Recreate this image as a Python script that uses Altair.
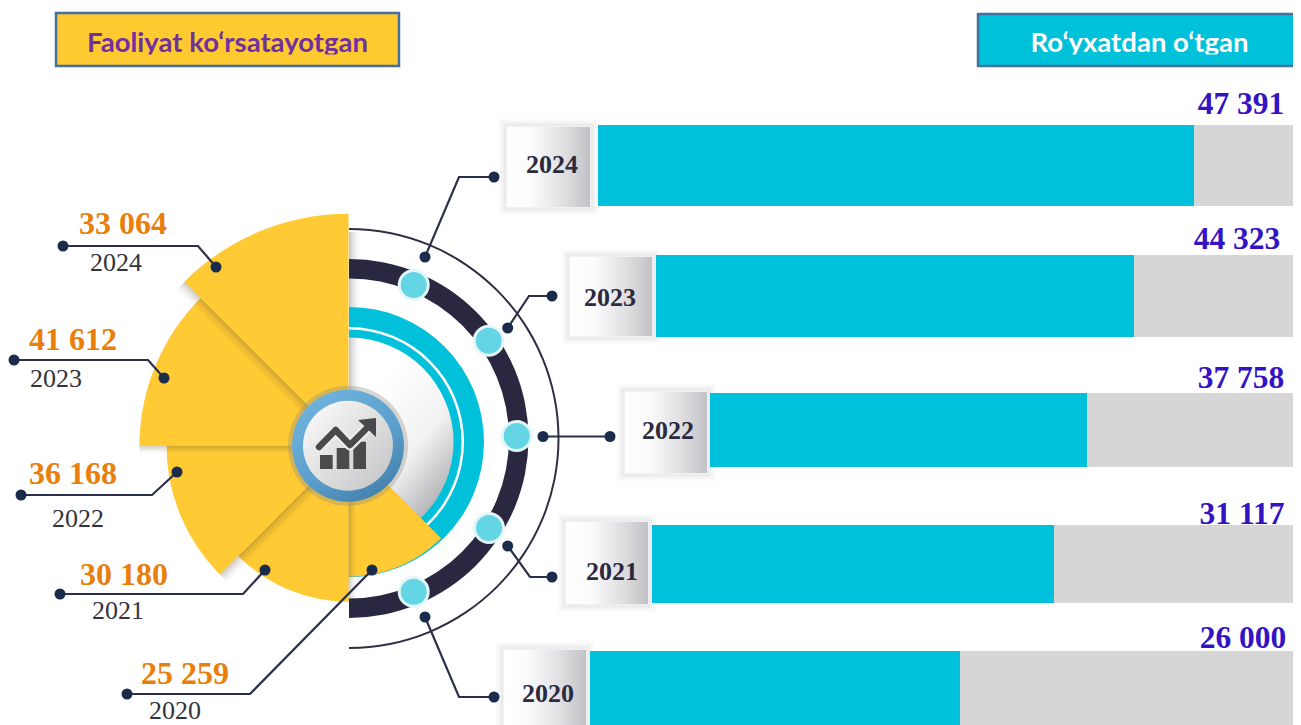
import math
import altair as alt
import pandas as pd

# ---- values
years = ["2024", "2023", "2022", "2021", "2020"]
registered = ["47 391", "44 323", "37 758", "31 117", "26 000"]
active = ["33 064", "41 612", "36 168", "30 180", "25 259"]

# bars (picture units)
bar_start = [598, 656, 710, 652, 590]
bar_end = [1194, 1134, 1087, 1054, 960]
bar_top = [125, 255, 393, 525, 651]
bar_bottom = [206, 337, 467, 603, 725]
box_left = [507, 570, 625, 566, 504]
box_right = [590, 652, 707, 648, 586]
box_top = [127, 257, 392, 522, 650]
box_bottom = [207, 336, 473, 604, 730]
box_label_x = [552, 610, 668, 612, 548]
box_label_y = [173, 306, 439, 580, 702]
reg_label_x = [1241, 1237, 1241, 1242, 1243]
reg_label_y = [114, 249, 388, 524, 648]

# fan
fan_cx, fan_cy = 348.5, 445.7
fan_from = [315, 270, 225, 180, 135]
fan_to = [360, 315, 270, 225, 180]
fan_radius = [232, 209, 182, 156, 131]
fan_shift_x = [-1, 0, 1, 1, 0]
fan_shift_y = [1, 1, 1, 0, 0]
act_label_x = [123, 73, 73, 124, 185]
act_label_y = [234, 350, 484, 585, 684]
yr_label_x = [116, 56, 78, 118, 175]
yr_label_y = [271, 387, 527, 619, 719]

# connectors: (series, x list, y list)
left_lines_x = [[63, 198, 216], [14, 148, 164], [21, 152, 177], [60, 243, 265], [127, 250, 372]]
left_lines_y = [[246, 246, 267], [360, 360, 378], [495, 495, 472], [594, 594, 570], [694, 694, 570]]
right_lines_x = [[425, 459, 494], [507.7, 529, 552], [543, 577, 610], [507.7, 530, 552], [425, 459, 494]]
right_lines_y = [[257, 177, 177], [328, 296, 296], [436.5, 436.5, 436.5], [546, 577, 577], [617, 697, 697]]
ring_dot_x = [413.7, 488.7, 516.7, 489, 413.7]
ring_dot_y = [285, 340.7, 436, 528, 591.7]

# icon
icon_bar_left = [320, 336.7, 353.3]
icon_bar_right = [332.7, 349.3, 366]
icon_bar_top = [455, 448, 441.7]
icon_bar_bottom = [469, 469, 469]
icon_line_x = [319, 335.7, 350, 366]
icon_line_y = [447, 430, 445, 429]
icon_head_x = [358, 376]
icon_head_y = [420, 418]
icon_head_y2 = [420, 437]

X = alt.Scale(domain=[8, 1293], nice=False, zero=False)
Y = alt.Scale(domain=[8, 725], reverse=True, nice=False, zero=False)


def ex(f="x"):
    return alt.X(f"{f}:Q", scale=X, axis=None)


def ey(f="y"):
    return alt.Y(f"{f}:Q", scale=Y, axis=None)


def rect(df, **mk):
    return alt.Chart(df).mark_rect(**mk).encode(
        x=ex("x"), x2=alt.X2("x2:Q"), y=ey("y"), y2=alt.Y2("y2:Q"))


def arc(cx, cy, a, b, r, r2=0, **mk):
    df = pd.DataFrame({"x": [cx], "y": [cy], "a": [math.radians(a)], "b": [math.radians(b)],
                       "r": [r], "r2": [r2]})
    return alt.Chart(df).mark_arc(**mk).encode(
        x=ex("x"), y=ey("y"),
        theta=alt.Theta("a:Q", scale=None, stack=False), theta2=alt.Theta2("b:Q"),
        radius=alt.Radius("r:Q", scale=None), radius2=alt.Radius2("r2:Q"))


def circle(xs, ys, d, **mk):
    df = pd.DataFrame({"x": xs, "y": ys})
    return alt.Chart(df).mark_circle(size=d * d, opacity=1, **mk).encode(x=ex("x"), y=ey("y"))


def text(xs, ys, labels, **mk):
    df = pd.DataFrame({"x": xs, "y": ys, "t": labels})
    return alt.Chart(df).mark_text(baseline="alphabetic", align="center", **mk).encode(
        x=ex("x"), y=ey("y"), text="t:N")


def grad(stops, x1=0, y1=0, x2=1, y2=0):
    return alt.LinearGradient(gradient="linear", x1=x1, y1=y1, x2=x2, y2=y2,
                              stops=[alt.GradientStop(offset=o, color=c) for o, c in stops])


def poly(xs, ys, **mk):
    df = pd.DataFrame({"x": xs, "y": ys, "o": range(len(xs))})
    return alt.Chart(df).mark_line(**mk).encode(x=ex("x"), y=ey("y"), order="o:Q")


layers = []

# headers
SERIF = "Liberation Serif"
layers.append(rect(pd.DataFrame({"x": [56], "x2": [399], "y": [13], "y2": [66]}),
                   fill="#FFCA2F", stroke="#41719C", strokeWidth=2.5))
layers.append(text([227.5], [52], ["Faoliyat ko‘rsatayotgan"], font="Lato", fontWeight="bold",
                   fontSize=27.5, color="#7030A0"))
layers.append(rect(pd.DataFrame({"x": [58], "x2": [397], "y": [54.5], "y2": [64]}), fill="#FFCA2F"))
layers.append(rect(pd.DataFrame({"x": [978], "x2": [1310], "y": [14], "y2": [66]}),
                   fill="#00C1DA", stroke="#41719C", strokeWidth=2.5))
layers.append(text([1139.5], [52], ["Ro‘yxatdan o‘tgan"], font="Lato", fontWeight="bold",
                   fontSize=27.5, color="#FFFFFF"))
layers.append(rect(pd.DataFrame({"x": [980], "x2": [1301], "y": [54.5], "y2": [64]}), fill="#00C1DA"))

# year boxes, under the bars
for i in range(5):
    l, r, t, b = box_left[i], box_right[i], box_top[i], box_bottom[i]
    for grow, col in [(8, "#FAFAFA"), (6, "#F5F5F6"), (4, "#EFEFF0"), (2.5, "#E7E7E9"), (1.5, "#F1F1F3")]:
        layers.append(rect(pd.DataFrame({"x": [l - grow], "x2": [r + grow], "y": [t - grow], "y2": [b + grow]}), fill=col))
    layers.append(rect(pd.DataFrame({"x": [l], "x2": [r], "y": [t], "y2": [b]}),
                       fill=grad([(0, "#FFFFFF"), (0.3, "#FBFBFC"), (0.7, "#DEDEE1"), (1, "#C2C2C6")])))
layers.append(text(box_label_x, box_label_y, years, font=SERIF, fontWeight="bold", fontSize=26, color="#2B2A40"))

# bars
bars = pd.DataFrame({"x": bar_start, "x2": bar_end, "y": bar_top, "y2": bar_bottom})
rest = pd.DataFrame({"x": bar_end, "x2": [1301] * 5, "y": bar_top, "y2": bar_bottom})
layers.append(rect(rest, fill="#D6D6D6"))
layers.append(rect(bars, fill="#00C1DB"))

# labels
layers.append(text(reg_label_x, reg_label_y, registered, font=SERIF, fontWeight="bold", fontSize=31.5, color="#3413C4"))
layers.append(text(act_label_x, act_label_y, active, font=SERIF, fontWeight="bold", fontSize=32, color="#E97E0A"))
layers.append(text(yr_label_x, yr_label_y, years, font=SERIF, fontSize=26, color="#33333D"))

# rings on the right
layers.append(arc(349, 442, 0, 180, 105, fill=grad([(0, "#FFFFFF"), (0.6, "#F2F2F3"), (1, "#B8B8BC")], 0.3, 0.2, 0.7, 0.85)))
layers.append(rect(pd.DataFrame({"x": [349], "x2": [362], "y": [232], "y2": [392]}),
                   fill=grad([(0, "#C4C4C8"), (1, "#FFFFFF00")])))
layers.append(arc(349, 442, 0, 180, 135, 104.5, fill="#00C0DA"))
layers.append(arc(349, 442, 0, 180, 115, 112.5, fill="#FFFFFF"))
layers.append(arc(349, 438.5, 0, 180, 179.5, 160, fill="#2A2840"))
layers.append(arc(349, 438.5, 0, 180, 210.5, 208.5, fill="#2F2E45"))
layers.append(circle(ring_dot_x, ring_dot_y, 29, fill="#63D5E4", stroke="#E4F6F8", strokeWidth=3))

# fan sectors, lowest first, each with its drop shadow
for i in range(4, -1, -1):
    for step, op in [(7, 0.05), (5, 0.06), (3, 0.08), (1.5, 0.09)]:
        layers.append(arc(fan_cx + fan_shift_x[i] * step, fan_cy + fan_shift_y[i] * step,
                          fan_from[i], fan_to[i], fan_radius[i], fill="#5A4A28", opacity=op))
    layers.append(arc(fan_cx, fan_cy, fan_from[i], fan_to[i], fan_radius[i], fill="#FFCA33"))

# centre badge
layers.append(circle([348], [445.7], 120, fill="#8C8C80", fillOpacity=0.35))
layers.append(circle([348], [445.7], 112, fill=grad([(0, "#6FB4DE"), (0.55, "#5C9FCD"), (1, "#3F7CA8")], 0.2, 0, 0.85, 1)))
layers.append(circle([348], [445.7], 90, fill=grad([(0, "#F8F8F8"), (1, "#C6C6C8")], 0.1, 0.1, 0.95, 0.9)))

# icon
icon_col = "#4A4A4C"
layers.append(rect(pd.DataFrame({"x": icon_bar_left, "x2": icon_bar_right, "y": icon_bar_top, "y2": icon_bar_bottom}), fill=icon_col))
layers.append(poly(icon_line_x, icon_line_y, color="#ECECEC", strokeWidth=11, strokeCap="round", strokeJoin="round"))
layers.append(poly(icon_line_x, icon_line_y, color=icon_col, strokeWidth=6.5, strokeCap="round", strokeJoin="round"))
layers.append(alt.Chart(pd.DataFrame({"x": icon_head_x, "y": icon_head_y, "y2": icon_head_y2})).mark_area(color=icon_col).encode(
    x=ex("x"), y=ey("y"), y2=alt.Y2("y2:Q")))

# connectors
for xs, ys in zip(left_lines_x + right_lines_x, left_lines_y + right_lines_y):
    layers.append(poly(xs, ys, color="#2B2F48", strokeWidth=2.2))
    layers.append(circle([xs[0], xs[-1]], [ys[0], ys[-1]], 11, fill="#1A2B4C"))

chart = alt.layer(*layers).properties(
    width=1285, height=717, padding=0, autosize=alt.AutoSizeParams(type="none"), background="#FFFFFF"
).configure_view(stroke=None)

chart.save("out.html", embed_options={"renderer": "svg", "actions": False})
